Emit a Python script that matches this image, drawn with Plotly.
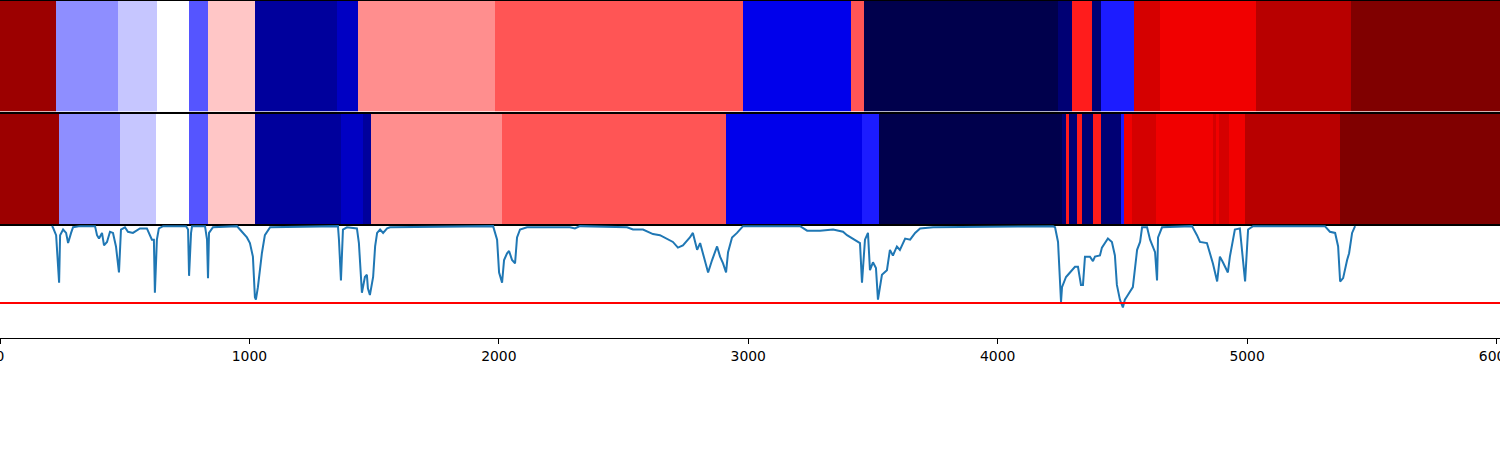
import plotly.graph_objects as go

# ---------------- data ----------------
X_MAX = 6014

# top segmentation: segment edges (sample index) and cluster label per segment
seg_edges_a = [0, 225, 473, 629, 758, 834, 1022, 1351, 1435, 1985, 2979, 3412, 3464,
               4242, 4298, 4378, 4414, 4547, 4651, 5036, 5417, 6014]
seg_labels_a = [17, 7, 8, 9, 6, 10, 2, 3, 11, 12, 4, 12, 0, 1, 13, 1, 5, 15, 14, 16, 18]

# second segmentation
seg_edges_b = [0, 237, 481, 625, 758, 834, 1022, 1367, 1455, 1487, 2013, 2911, 3456, 3524,
               4258, 4274, 4286, 4318, 4338, 4382, 4414, 4495, 4507, 4539, 4635, 4863,
               4876, 4888, 4928, 4992, 5373, 6014]
seg_labels_b = [17, 7, 8, 9, 6, 10, 2, 3, 2, 11, 12, 4, 5, 0, 1, 13, 1, 13, 1, 13, 1, 5,
                14, 15, 14, 15, 14, 15, 14, 16, 18]

# score curve
line_x = [208, 212, 225, 237, 241, 253, 265, 273, 285, 293, 321, 381, 389, 397, 409, 417,
          429, 441, 453, 465, 477, 485, 501, 513, 533, 561, 589, 609, 617, 621, 629, 637,
          654, 746, 754, 758, 766, 770, 822, 830, 834, 838, 854, 950, 962, 990, 1002, 1014,
          1022, 1026, 1034, 1050, 1062, 1083, 1355, 1359, 1367, 1375, 1391, 1431, 1439,
          1451, 1463, 1471, 1475, 1483, 1496, 1504, 1512, 1524, 1536, 1552, 1564, 1977,
          1993, 2001, 2013, 2021, 2033, 2041, 2053, 2065, 2073, 2085, 2113, 2285, 2305,
          2325, 2514, 2538, 2578, 2618, 2646, 2674, 2698, 2718, 2738, 2766, 2778, 2795,
          2807, 2823, 2839, 2855, 2875, 2887, 2899, 2911, 2919, 2935, 2955, 2979, 3208,
          3236, 3288, 3340, 3380, 3396, 3420, 3448, 3456, 3468, 3480, 3488, 3500, 3512,
          3520, 3536, 3556, 3568, 3580, 3596, 3608, 3629, 3649, 3669, 3689, 3741, 4222,
          4230, 4242, 4254, 4258, 4266, 4274, 4282, 4294, 4310, 4322, 4334, 4342, 4350,
          4370, 4382, 4390, 4410, 4418, 4442, 4458, 4470, 4478, 4490, 4502, 4510, 4522,
          4542, 4559, 4571, 4579, 4599, 4611, 4631, 4639, 4643, 4659, 4779, 4799, 4811,
          4839, 4863, 4880, 4891, 4903, 4923, 4931, 4951, 4971, 4992, 5004, 5024, 5312,
          5332, 5353, 5365, 5373, 5385, 5401, 5409, 5421, 5433]
line_y = [0.99, 0.98, 0.91, 0.49, 0.91, 0.96, 0.93, 0.84, 0.93, 0.98, 0.99, 0.99, 0.91,
          0.88, 0.93, 0.82, 0.85, 0.94, 0.93, 0.81, 0.58, 0.96, 0.98, 0.94, 0.93, 0.97,
          0.97, 0.87, 0.87, 0.40, 0.87, 0.97, 0.99, 0.99, 0.96, 0.55, 0.93, 0.99, 0.99,
          0.87, 0.53, 0.93, 0.98, 0.99, 0.96, 0.89, 0.84, 0.72, 0.36, 0.34, 0.45, 0.75,
          0.91, 0.98, 0.99, 0.87, 0.51, 0.96, 0.98, 0.97, 0.84, 0.40, 0.54, 0.56, 0.44,
          0.38, 0.54, 0.81, 0.93, 0.96, 0.93, 0.97, 0.98, 0.99, 0.87, 0.58, 0.49, 0.69,
          0.75, 0.77, 0.69, 0.66, 0.89, 0.96, 0.98, 0.98, 0.97, 0.99, 0.98, 0.96, 0.96,
          0.92, 0.91, 0.88, 0.85, 0.80, 0.82, 0.89, 0.93, 0.78, 0.84, 0.71, 0.58, 0.69,
          0.81, 0.72, 0.66, 0.58, 0.76, 0.89, 0.93, 0.99, 0.99, 0.95, 0.95, 0.96, 0.94,
          0.91, 0.88, 0.84, 0.49, 0.87, 0.93, 0.60, 0.67, 0.62, 0.34, 0.56, 0.60, 0.78,
          0.73, 0.81, 0.78, 0.88, 0.87, 0.93, 0.97, 0.98, 0.99, 0.98, 0.85, 0.32, 0.45,
          0.50, 0.54, 0.56, 0.59, 0.63, 0.63, 0.47, 0.47, 0.72, 0.72, 0.68, 0.72, 0.73,
          0.80, 0.88, 0.85, 0.73, 0.47, 0.34, 0.27, 0.34, 0.38, 0.45, 0.78, 0.85, 0.98,
          0.98, 0.87, 0.76, 0.51, 0.89, 0.98, 0.99, 0.91, 0.85, 0.84, 0.66, 0.50, 0.72,
          0.67, 0.58, 0.72, 0.96, 0.97, 0.50, 0.96, 0.99, 0.99, 0.94, 0.93, 0.81, 0.50,
          0.53, 0.69, 0.75, 0.93, 0.99]
threshold = 0.31

tick_vals = [0, 1000, 2000, 3000, 4000, 5000, 6000]
tick_text = ["0", "1000", "2000", "3000", "4000", "5000", "6000"]

N_LABELS = 18

# ---------------- styling ----------------
seismic = [[0.0, "rgb(0,0,76)"], [0.25, "rgb(0,0,255)"], [0.5, "rgb(255,255,255)"],
           [0.75, "rgb(255,0,0)"], [1.0, "rgb(128,0,0)"]]

H_PLOT = 338.0
def dom(top_px, bottom_px):
    return [(H_PLOT - bottom_px) / H_PLOT, (H_PLOT - top_px) / H_PLOT]

fig = go.Figure()

fig.add_trace(go.Heatmap(x=seg_edges_a, y=[0, 1], z=[seg_labels_a], colorscale=seismic,
                         zmin=0, zmax=N_LABELS, showscale=False, xaxis="x", yaxis="y",
                         hoverinfo="skip"))
fig.add_trace(go.Heatmap(x=seg_edges_b, y=[0, 1], z=[seg_labels_b], colorscale=seismic,
                         zmin=0, zmax=N_LABELS, showscale=False, xaxis="x2", yaxis="y2",
                         hoverinfo="skip"))
fig.add_trace(go.Scatter(x=line_x, y=line_y, mode="lines",
                         line=dict(color="#1f77b4", width=2), xaxis="x3", yaxis="y3",
                         showlegend=False))
fig.add_trace(go.Scatter(x=[0, X_MAX], y=[threshold, threshold], mode="lines",
                         line=dict(color="#ff0000", width=2), xaxis="x3", yaxis="y3",
                         showlegend=False))

common_x = dict(range=[0, X_MAX], showline=True, mirror=True, linecolor="black",
                linewidth=1.1, showgrid=False, zeroline=False, automargin=False)
common_y = dict(showline=True, mirror=True, linecolor="black", linewidth=1.1,
                showgrid=False, zeroline=False, showticklabels=False, ticks="",
                automargin=False)

fig.update_layout(
    template="none",
    width=1500, height=450,
    margin=dict(l=0, r=0, t=0, b=112, pad=0),
    paper_bgcolor="white", plot_bgcolor="white",
    showlegend=False,
    font=dict(family="DejaVu Sans", size=13.9, color="black"),
    xaxis=dict(**common_x, anchor="y", showticklabels=False, ticks=""),
    yaxis=dict(**common_y, domain=dom(0.6, 111.5), range=[0, 1]),
    xaxis2=dict(**common_x, anchor="y2", showticklabels=False, ticks=""),
    yaxis2=dict(**common_y, domain=dom(113.5, 225), range=[0, 1]),
    xaxis3=dict(**common_x, anchor="y3", tickmode="array", tickvals=tick_vals,
                ticktext=tick_text, ticks="outside", ticklen=5, tickwidth=1.1,
                tickcolor="black", ticklabeloverflow="allow",
                tickfont=dict(family="DejaVu Sans", size=13.9, color="black")),
    yaxis3=dict(**common_y, domain=dom(225, 338), range=[0, 1]),
)

fig.write_html("out.html", config={"displayModeBar": False},
               post_script="document.body.style.margin='0';")
